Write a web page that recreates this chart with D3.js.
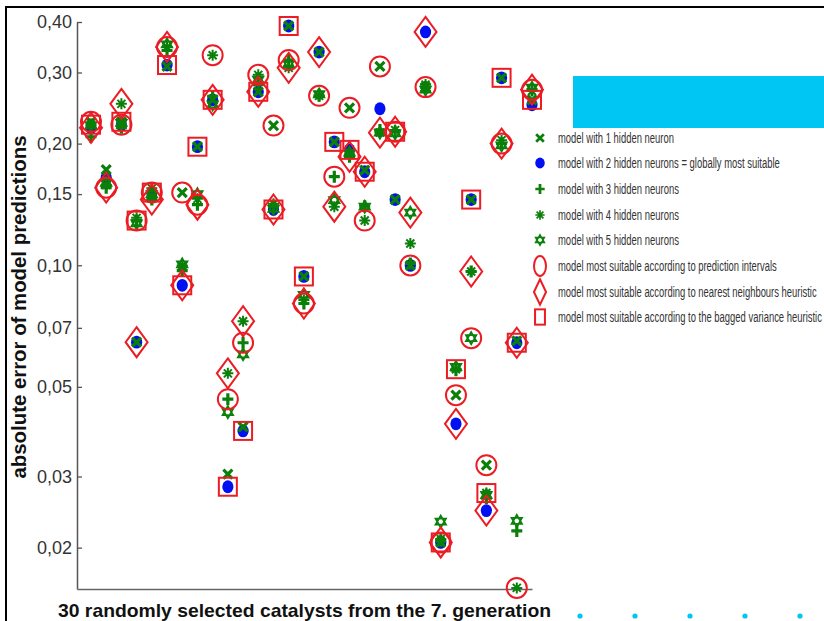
<!DOCTYPE html>
<html><head><meta charset="utf-8">
<script src="https://cdn.jsdelivr.net/npm/d3@7"></script>
<style>
html,body{margin:0;padding:0;background:#fff;}
svg{display:block;font-family:"Liberation Sans",Arial,sans-serif;}
</style></head>
<body>
<svg id="chart" width="824" height="621"></svg>
<script>
// catalysts 1..30
const catalysts = d3.range(1, 31);
// absolute error of each model (1..5 hidden neurons)
const model1 = [0.2265,0.1724,0.2265,0.0645,0.148,0.3105,0.1513,0.1965,0.2567,0.0304,0.0398,0.2687,0.2217,0.391,0.0938,0.337,0.202,0.2453,0.172,0.3105,0.1454,0.0999,0.276,0.0206,0.0477,0.1454,0.032,0.291,0.065,0.2567];
const model2 = [0.219,0.1648,0.2228,0.0645,0.1513,0.313,0.0892,0.1965,0.2567,0.0283,0.0389,0.2687,0.1374,0.391,0.0938,0.337,0.202,0.193,0.1704,0.244,0.1454,0.0999,0.378,0.0206,0.0405,0.1454,0.0247,0.291,0.0643,0.2495];
const model3 = [0.208,0.1556,0.219,0.129,0.1454,0.34,0.097,0.1412,0.262,0.0466,0.0643,0.28,0.14,0.322,0.0804,0.2626,0.1657,0.1856,0.14,0.216,0.214,0.101,0.276,0.0208,0.055,0.0965,0.0265,0.20,0.022,0.272];
const model4 = [0.2228,0.158,0.2509,0.131,0.155,0.347,0.0999,0.146,0.331,0.054,0.0727,0.296,0.142,0.308,0.082,0.2626,0.1396,0.188,0.129,0.213,0.216,0.1132,0.28,0.021,0.0553,0.0965,0.0273,0.204,0.0159,0.27];
const model5 = [0.222,0.16,0.225,0.127,0.15,0.352,0.1005,0.15,0.25,0.0433,0.0602,0.288,0.138,0.315,0.0845,0.265,0.145,0.19,0.1396,0.2129,0.212,0.135,0.272,0.0232,0.056,0.066,0.027,0.198,0.0233,0.275];
// model (1..5) chosen by each heuristic, 0 = not visible
const selPrediction = [1,3,2,3,2,4,1,3,4,3,3,4,1,3,3,3,3,1,4,1,3,2,3,2,1,5,1,3,4,3];
const selNeighbours = [2,3,4,2,3,4,2,3,2,4,4,2,2,4,3,2,4,3,2,5,3,5,2,2,2,4,2,3,2,3];
const selBagged     = [4,0,1,3,2,2,2,2,2,2,2,2,2,2,2,0,2,2,2,0,3,0,0,2,4,2,4,2,2,1];
const yTicks = [0.02,0.03,0.05,0.07,0.10,0.15,0.20,0.30,0.40];
const legendLabels = [
  "model with 1 hidden neuron",
  "model with 2 hidden neurons = globally most suitable",
  "model with 3 hidden neurons",
  "model with 4 hidden neurons",
  "model with 5 hidden neurons",
  "model most suitable according to prediction intervals",
  "model most suitable according to nearest neighbours heuristic",
  "model most suitable according to the bagged variance heuristic"
];
const legendWidths = [116,222,121,121,121,219,259,264];

const GREEN = "#0a7f0a", BLUE = "#0010f0", RED = "#ec1c24", CYAN = "#00c6f4";
const models = [model1, model2, model3, model4, model5];

const svg = d3.select("#chart");
const x = d3.scaleLinear().domain([0.08, 30]).range([77, 532]);
const y = d3.scaleLog().domain([0.0158, 0.40]).range([589, 22]);

// frame
svg.append("path").attr("d","M6,621V7H824").attr("fill","none").attr("stroke","#000").attr("stroke-width",2);

// axes
const yAxis = d3.axisLeft(y).tickValues(yTicks).tickSizeInner(-5).tickSizeOuter(0).tickPadding(5)
  .tickFormat(d => d3.format(".2f")(d).replace(".", ","));
const gy = svg.append("g").attr("transform","translate(77,0)").call(yAxis);
gy.select(".domain").attr("stroke","#555").attr("stroke-width",1.5);
gy.selectAll(".tick line").attr("stroke","#555").attr("stroke-width",1.3);
gy.selectAll(".tick text").attr("font-size",18).attr("fill","#333").attr("font-family","Liberation Sans, Arial, sans-serif");

const gx = svg.append("g").attr("transform","translate(0,589)").call(d3.axisBottom(x).tickValues([]).tickSizeOuter(0));
gx.select(".domain").attr("stroke","#666").attr("stroke-width",1.5);

// axis titles
svg.append("text").attr("transform","translate(26,307) rotate(-90)").attr("text-anchor","middle")
  .attr("font-weight","bold").attr("font-size",19.5).attr("fill","#111")
  .attr("textLength",343).attr("lengthAdjust","spacingAndGlyphs")
  .text("absolute error of model predictions");
svg.append("text").attr("x",58).attr("y",617).attr("font-weight","bold").attr("font-size",19)
  .attr("fill","#111").attr("textLength",493).attr("lengthAdjust","spacingAndGlyphs")
  .text("30 randomly selected catalysts from the 7. generation");

// marker helpers
function hexagram(r){
  const p = k => d3.range(3).map(i => { const a = (k + i*120 - 90) * Math.PI/180; return [r*Math.cos(a), r*Math.sin(a)]; });
  const t = pts => "M" + pts.map(q => q[0].toFixed(2)+","+q[1].toFixed(2)).join("L") + "Z";
  return t(p(0)) + t(p(60));
}
function drawModel(g, m, cx, cy, s){
  s = s || 1;
  const gg = g.append("g").attr("transform",`translate(${cx},${cy}) scale(${s})`);
  if (m === 1) gg.append("path").attr("d","M-4.5,-4.5L4.5,4.5M-4.5,4.5L4.5,-4.5").attr("stroke",GREEN).attr("stroke-width",3.2).attr("fill","none");
  if (m === 2) gg.append("ellipse").attr("rx",5.6).attr("ry",6.4).attr("fill",BLUE);
  if (m === 3) gg.append("path").attr("d","M-5.5,0H5.5M0,-6V6").attr("stroke",GREEN).attr("stroke-width",3.2).attr("fill","none");
  if (m === 4) gg.append("path").attr("d","M-5.5,0H5.5M0,-5.5V5.5M-4,-4L4,4M-4,4L4,-4").attr("stroke",GREEN).attr("stroke-width",2).attr("fill","none");
  if (m === 5) gg.append("path").attr("d",hexagram(6)).attr("stroke",GREEN).attr("stroke-width",1.8).attr("fill","none");
}
function drawSel(g, kind, cx, cy, sx, sy){
  sx = sx || 1; sy = sy || 1;
  const st = s => s.attr("fill","none").attr("stroke",RED).attr("stroke-width",2);
  if (kind === "circle") st(g.append("ellipse").attr("cx",cx).attr("cy",cy).attr("rx",10*sx).attr("ry",10*sy));
  if (kind === "diamond") st(g.append("path").attr("d",`M${cx},${cy-15*sy}L${cx+11*sx},${cy}L${cx},${cy+15*sy}L${cx-11*sx},${cy}Z`));
  if (kind === "square") st(g.append("rect").attr("x",cx-9*sx).attr("y",cy-9*sy).attr("width",18*sx).attr("height",18*sy));
}

// points
const gp = svg.append("g");
catalysts.forEach((c, i) => {
  const cx = x(c);
  drawModel(gp, 2, cx, y(model2[i]));
  [0,2,3,4].forEach(k => drawModel(gp, k+1, cx, y(models[k][i])));
});
const gs = svg.append("g");
catalysts.forEach((c, i) => {
  const cx = x(c);
  if (selPrediction[i]) drawSel(gs, "circle", cx, y(models[selPrediction[i]-1][i]));
  if (selNeighbours[i]) drawSel(gs, "diamond", cx, y(models[selNeighbours[i]-1][i]));
  if (selBagged[i]) drawSel(gs, "square", cx, y(models[selBagged[i]-1][i]));
});

// legend
svg.append("rect").attr("x",573).attr("y",76).attr("width",251).attr("height",52).attr("fill",CYAN);
const rowsY = [138,163,189,215,240,266,292,317];
const gl = svg.append("g");
legendLabels.forEach((t, i) => {
  const cy = rowsY[i];
  if (i < 5) drawModel(gl, i+1, 540, cy, 0.85);
  if (i === 5) drawSel(gl, "circle", 540, cy, 0.6, 1.0);
  if (i === 6) drawSel(gl, "diamond", 540, cy, 0.55, 0.85);
  if (i === 7) drawSel(gl, "square", 540, cy, 0.55, 0.85);
  const tg = gl.append("g").attr("transform",`translate(558,${cy+5})`);
  const tx = tg.append("text").attr("x",0).attr("y",0).attr("font-size",15.5).attr("fill","#333").text(t);
  const natural = tx.node().getComputedTextLength();
  tg.attr("transform",`translate(558,${cy+5}) scale(${legendWidths[i]/natural},1)`);
});

// cyan dots at the bottom
svg.append("g").selectAll("circle").data([580,635,690,745,800]).join("circle")
  .attr("cx",d=>d).attr("cy",616).attr("r",2.6).attr("fill",CYAN);
</script>
</body></html>
